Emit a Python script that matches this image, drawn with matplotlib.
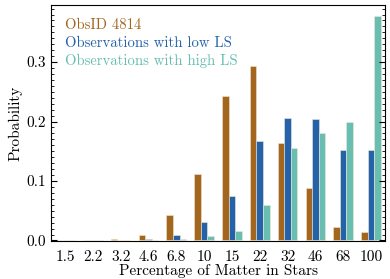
import numpy as np
import matplotlib.pyplot as plt
from matplotlib.ticker import MultipleLocator

plt.rcParams['font.family'] = 'serif'
plt.rcParams['font.serif'] = ['cmr10']
plt.rcParams['mathtext.fontset'] = 'cm'
plt.rcParams['axes.formatter.use_mathtext'] = True

categories = ['1.5', '2.2', '3.2', '4.6', '6.8', '10', '15', '22', '32', '46', '68', '100']
obsid = [0.0003, 0.0008, 0.0025, 0.0098, 0.043, 0.111, 0.243, 0.293, 0.164, 0.089, 0.023, 0.015]
low_ls = [0.0, 0.0002, 0.0005, 0.002, 0.0087, 0.031, 0.074, 0.167, 0.206, 0.205, 0.152, 0.152]
high_ls = [0.0, 0.0, 0.0002, 0.001, 0.0025, 0.0076, 0.0165, 0.060, 0.155, 0.181, 0.199, 0.377]

c_obs = '#A3661E'
c_low = '#2462AA'
c_high = '#67BEB1'

fig, ax = plt.subplots(figsize=(3.9, 2.79), dpi=100)
fig.subplots_adjust(left=0.131, right=0.987, top=0.982, bottom=0.136)

x = np.arange(len(categories))
w = 0.235
for off, vals, col in [(-w, obsid, c_obs), (0, low_ls, c_low), (w, high_ls, c_high)]:
    ax.bar(x + off, vals, width=w, color=col, edgecolor='#f5e6d0', linewidth=0.4)

ax.set_xticks(x)
ax.set_xticklabels(categories, fontsize=11)
ax.tick_params(axis='x', length=0, pad=7)
ax.set_xlim(-0.5, len(categories) - 0.5)
ax.set_ylim(-0.001, 0.396)
ax.set_yticks([0.0, 0.1, 0.2, 0.3])
ax.set_yticklabels(['0.0', '0.1', '0.2', '0.3'], fontsize=11)
ax.yaxis.set_minor_locator(MultipleLocator(0.01))
ax.tick_params(axis='y', which='both', direction='in', left=True, right=True)
ax.tick_params(axis='y', which='major', length=4)
ax.tick_params(axis='y', which='minor', length=2)
ax.set_xlabel('Percentage of Matter in Stars', fontsize=11, labelpad=0)
ax.set_ylabel('Probability', fontsize=11, labelpad=3)

labels = ['ObsID 4814', 'Observations with low LS', 'Observations with high LS']
for i, (lab, col) in enumerate(zip(labels, [c_obs, c_low, c_high])):
    ax.text(0.043, 0.915 - i * 0.076, lab, color=col, fontsize=10.6, transform=ax.transAxes, va='center')

fig.savefig('out.png', dpi=100)
